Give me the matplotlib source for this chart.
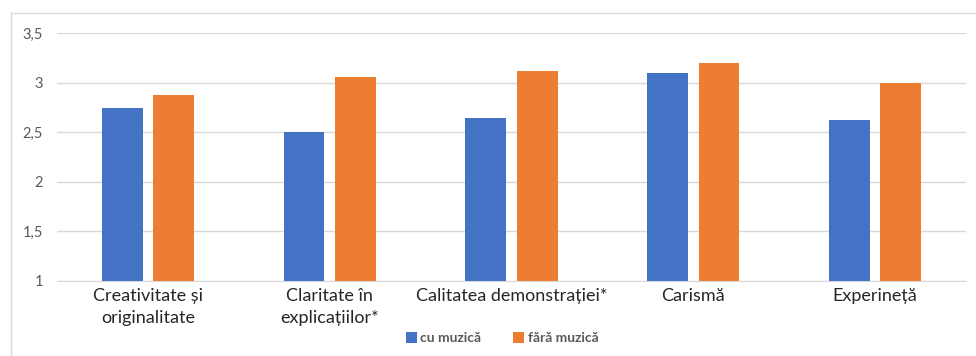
import matplotlib.pyplot as plt
import numpy as np
from matplotlib.lines import Line2D

categories = ["Creativitate și\noriginalitate", "Claritate în\nexplicațiilor*",
              "Calitatea demonstrației*", "Carismă", "Experineță"]
cu_muzica = [2.74, 2.50, 2.64, 3.10, 2.62]
fara_muzica = [2.88, 3.06, 3.12, 3.20, 3.00]
series_names = ["cu muzică", "fără muzică"]

plt.rcParams['font.family'] = ['Lato', 'DejaVu Sans']

fig = plt.figure(figsize=(9.76, 3.56), dpi=100)
ax = fig.add_axes([57 / 976, 1 - 281 / 356, (966 - 57) / 976, (281 - 33) / 356])

x = np.arange(len(categories))
w = 0.225
off = 0.1415
ax.bar(x - off, cu_muzica, w, color="#4472c4", label=series_names[0], zorder=3)
ax.bar(x + off, fara_muzica, w, color="#ed7d31", label=series_names[1], zorder=3)

ax.set_ylim(1, 3.5)
ax.set_xlim(-0.5, len(categories) - 0.5)
yt = [1, 1.5, 2, 2.5, 3, 3.5]
ax.set_yticks(yt)
ax.set_yticklabels([str(v).replace(".", ",") if v % 1 else str(int(v)) for v in yt],
                   color="#595959", fontsize=10.5)
ax.set_xticks(x)
ax.set_xticklabels(categories, fontsize=13, color="#262626", linespacing=1.45)
ax.tick_params(length=0, axis="y", pad=10)
ax.tick_params(length=0, axis="x", pad=5)
ax.grid(axis="y", color="#d9d9d9", linewidth=1, zorder=0)
for s in ["top", "right", "left"]:
    ax.spines[s].set_visible(False)
ax.spines["bottom"].set_color("#d9d9d9")

leg = fig.legend(loc="center", bbox_to_anchor=(502 / 976, 1 - 338 / 356), ncol=2,
                 frameon=False, fontsize=10, handlelength=0.8, handleheight=0.8,
                 handletextpad=0.25, columnspacing=2.3)
for t in leg.get_texts():
    t.set_color("#595959")
    t.set_fontweight("bold")

fig.add_artist(Line2D([11 / 976, 1], [1 - 13 / 356] * 2, color="#d9d9d9", lw=1))
fig.add_artist(Line2D([11 / 976] * 2, [0, 1 - 13 / 356], color="#d9d9d9", lw=1))

fig.savefig("out.png", dpi=100)
